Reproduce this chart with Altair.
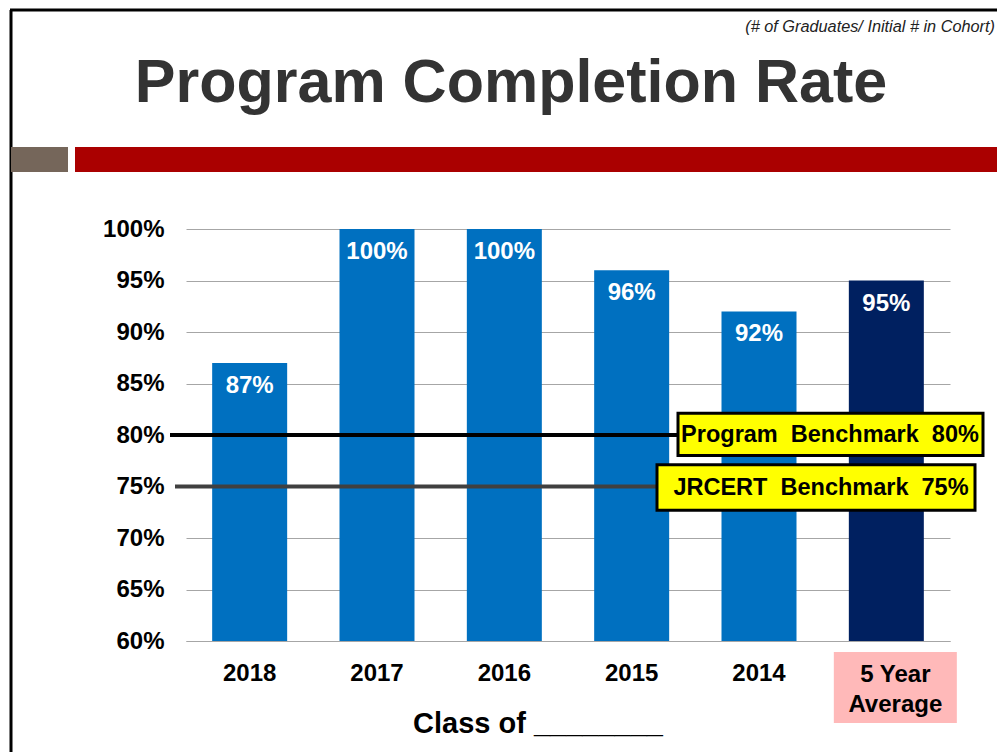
import altair as alt
import pandas as pd

categories = ["2018", "2017", "2016", "2015", "2014", "5 Year Average"]
rates = [87, 100, 100, 96, 92, 95]
axis_labels = ["2018", "2017", "2016", "2015", "2014", "5 Year|Average"]
is_average = [False, False, False, False, False, True]
y_ticks = [60, 65, 70, 75, 80, 85, 90, 95, 100]

program_benchmark = 80
jrcert_benchmark = 75

FONT = "Liberation Sans"
NB = "\u00a0"

df = pd.DataFrame({
    "cat": categories,
    "rate": rates,
    "xlabel": axis_labels,
    "avg": is_average,
    "label": [f"{r}%" for r in rates],
})

base = alt.Chart(df)
xenc = alt.X("cat:N", sort=categories,
             scale=alt.Scale(paddingInner=0, paddingOuter=0),
             axis=alt.Axis(title=None, labels=False, ticks=False, domain=True,
                           domainColor="#A6A6A6", grid=False))

bars = base.mark_bar(size=75).encode(
    x=xenc,
    y=alt.Y("rate:Q", scale=alt.Scale(domain=[60, 100], nice=False, zero=False),
            axis=alt.Axis(title=None, values=y_ticks, labelExpr="datum.value + '%'",
                          labelFont=FONT, labelFontSize=24, labelFontWeight="bold",
                          labelColor="#000000", labelPadding=22, ticks=False,
                          domain=False, grid=True, gridColor="#A6A6A6", gridWidth=1)),
    y2=alt.datum(60),
    color=alt.condition("datum.avg", alt.value("#002060"), alt.value("#0070C0")),
)

bar_labels = base.mark_text(font=FONT, fontSize=24, fontWeight="bold", color="white",
                            baseline="middle", dy=23).encode(
    x=alt.X("cat:N", sort=categories), y="rate:Q", text="label:N")

pink = base.transform_filter("datum.avg").mark_bar(size=123, xOffset=9, color="#FFB9B9").encode(
    x=alt.X("cat:N", sort=categories), y=alt.value(423), y2=alt.value(494))

xlabels = base.transform_filter("!datum.avg").mark_text(
    font=FONT, fontSize=24, fontWeight="bold", color="#000000", baseline="top").encode(
    x=alt.X("cat:N", sort=categories), y=alt.value(433), text="xlabel:N")

avg_label = base.transform_filter("datum.avg").mark_text(
    font=FONT, fontSize=24, fontWeight="bold", color="#000000", baseline="top",
    lineBreak="|", lineHeight=30, dx=9).encode(
    x=alt.X("cat:N", sort=categories), y=alt.value(434), text="xlabel:N")

one = pd.DataFrame({"a": [1]})
ob = alt.Chart(one)

prog_line = ob.mark_rule(color="#000000", strokeWidth=4).encode(
    x=alt.value(-16), x2=alt.value(494), y=alt.datum(program_benchmark))
jr_line = ob.mark_rule(color="#404040", strokeWidth=4).encode(
    x=alt.value(-11), x2=alt.value(474), y=alt.datum(jrcert_benchmark))

prog_box = ob.mark_rect(fill="#FFFF00", stroke="#000000", strokeWidth=3).encode(
    x=alt.value(492), x2=alt.value(797), y=alt.datum(82.1), y2=alt.datum(78.0))
jr_box = ob.mark_rect(fill="#FFFF00", stroke="#000000", strokeWidth=3).encode(
    x=alt.value(471), x2=alt.value(789), y=alt.datum(77.1), y2=alt.datum(72.7))

prog_text = ob.mark_text(font=FONT, fontSize=23.5, fontWeight="bold", color="#000000",
                         baseline="middle", align="center").encode(
    x=alt.value(644), y=alt.datum(program_benchmark),
    text=alt.value(f"Program{NB}{NB}Benchmark{NB}{NB}80%"))
jr_text = ob.mark_text(font=FONT, fontSize=23.5, fontWeight="bold", color="#000000",
                       baseline="middle", align="center").encode(
    x=alt.value(635), y=alt.datum(74.9),
    text=alt.value(f"JRCERT{NB}{NB}Benchmark{NB}{NB}75%"))

# slide decorations
top_border = ob.mark_rule(color="#000000", strokeWidth=3).encode(
    x=alt.value(-176), x2=alt.value(811), y=alt.value(-219))
left_border = ob.mark_rule(color="#000000", strokeWidth=3).encode(
    x=alt.value(-175), y=alt.value(-219), y2=alt.value(523))
brown = ob.mark_rect(color="#75665A").encode(
    x=alt.value(-175), x2=alt.value(-118), y=alt.value(-82), y2=alt.value(-57))
red = ob.mark_rect(color="#AA0000").encode(
    x=alt.value(-111), x2=alt.value(811), y=alt.value(-82), y2=alt.value(-57))

title = ob.mark_text(font=FONT, fontSize=61, fontWeight="bold", color="#333333",
                     align="center", baseline="alphabetic").encode(
    x=alt.value(325), y=alt.value(-127), text=alt.value("Program Completion Rate"))
note = ob.mark_text(font=FONT, fontSize=16.3, fontStyle="italic", color="#222222",
                    align="right", baseline="alphabetic").encode(
    x=alt.value(809), y=alt.value(-197), text=alt.value("(# of Graduates/ Initial # in Cohort)"))
class_of = ob.mark_text(font=FONT, fontSize=29, fontWeight="bold", color="#000000",
                        align="center", baseline="alphabetic").encode(
    x=alt.value(352), y=alt.value(504), text=alt.value("Class of ________"))

chart = alt.layer(
    bars, bar_labels, pink, xlabels, avg_label,
    prog_line, jr_line, prog_box, jr_box, prog_text, jr_text,
    top_border, left_border, brown, red, title, note, class_of,
).properties(
    width=764, height=412,
    autosize=alt.AutoSizeParams(type="none"),
    padding={"left": 186, "top": 229, "right": 47, "bottom": 111},
    background="white",
).configure_view(stroke=None)

chart.save("out.html", embed_options={"renderer": "svg", "actions": False})
